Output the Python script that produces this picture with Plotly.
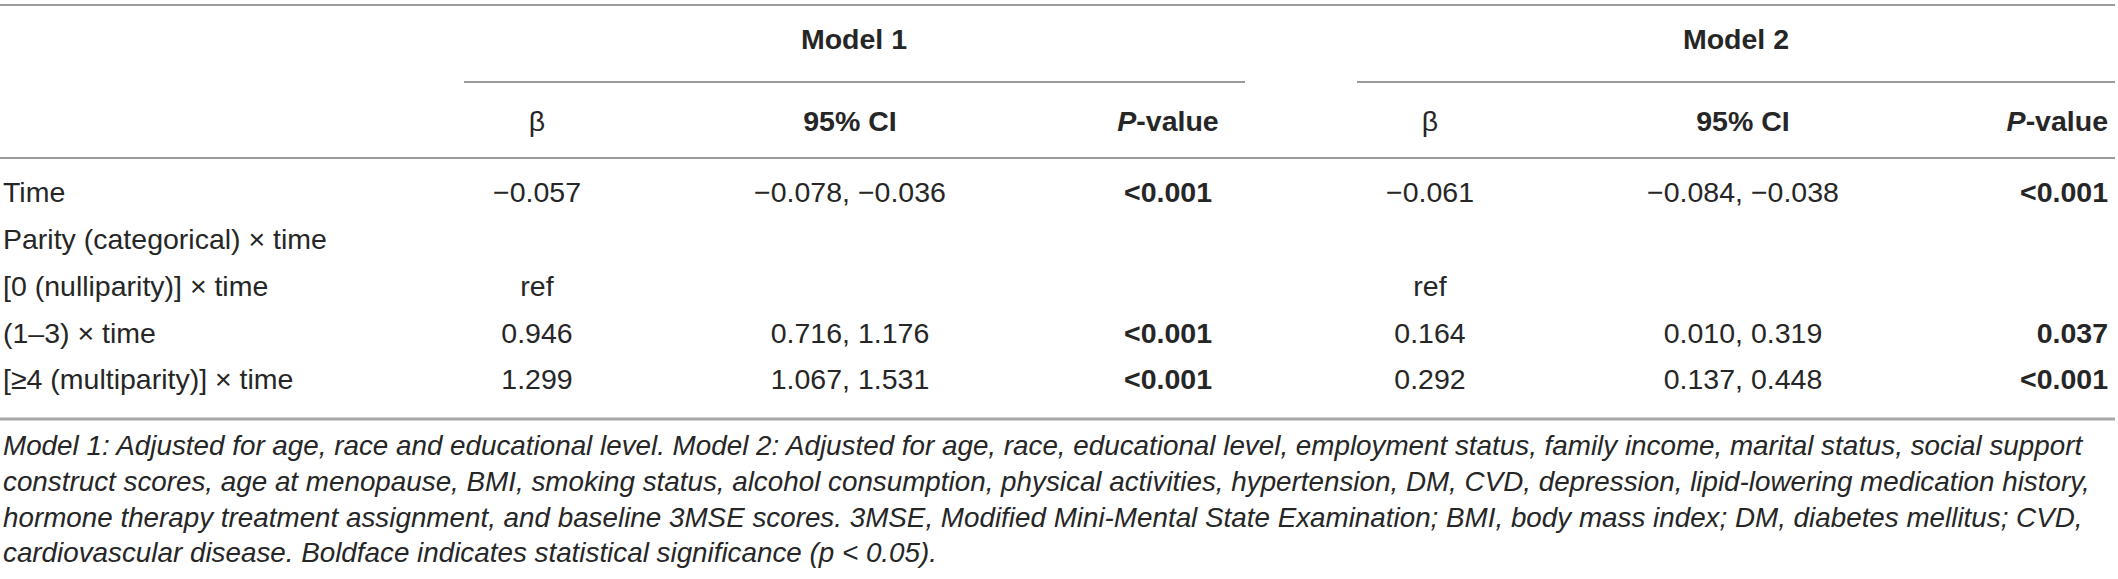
import plotly.graph_objects as go

# table content
row_labels = ["Time", "Parity (categorical) × time", "[0 (nulliparity)] × time",
              "(1–3) × time", "[≥4 (multiparity)] × time"]
m1_beta = ["−0.057", "", "ref", "0.946", "1.299"]
m1_ci = ["−0.078, −0.036", "", "", "0.716, 1.176", "1.067, 1.531"]
m1_p = ["<0.001", "", "", "<0.001", "<0.001"]
m2_beta = ["−0.061", "", "ref", "0.164", "0.292"]
m2_ci = ["−0.084, −0.038", "", "", "0.010, 0.319", "0.137, 0.448"]
m2_p = ["<0.001", "", "", "0.037", "<0.001"]

group_labels = ["Model 1", "Model 2"]
sub_headers = ["β", "95% CI", "<i>P</i>-value"]

footnote = [
    "Model 1: Adjusted for age, race and educational level. Model 2: Adjusted for age, race, educational level, employment status, family income, marital status, social support",
    "construct scores, age at menopause, BMI, smoking status, alcohol consumption, physical activities, hypertension, DM, CVD, depression, lipid-lowering medication history,",
    "hormone therapy treatment assignment, and baseline 3MSE scores. 3MSE, Modified Mini-Mental State Examination; BMI, body mass index; DM, diabetes mellitus; CVD,",
    "cardiovascular disease. Boldface indicates statistical significance (p < 0.05).",
]

# layout (pixel space)
W, H = 2118, 579
FONT = "Liberation Sans, Arial, Helvetica, sans-serif"
TXT = "#262626"
body_size = 28.5
foot_size = 27.8

label_x = 3
col_x = [537, 850, 1168, 1430, 1743, 2108]
group_x = [854, 1736]
group_span = [(464, 1245), (1357, 2115)]
group_y = 42
sub_y = 124
row_y0, row_h = 195, 46.8
foot_y0, foot_h = 448, 35.8


def esc(s):
    return s.replace("<", "&lt;")


def bold(s):
    return "<b>" + esc(s) + "</b>" if s else ""


fig = go.Figure()
rows_y = [row_y0 + i * row_h for i in range(len(row_labels))]

# row labels
fig.add_trace(go.Scatter(x=[label_x] * len(row_labels), y=rows_y, text=row_labels,
                         mode="text", textposition="middle right",
                         textfont=dict(family=FONT, size=body_size, color=TXT)))

# value columns
cols = [
    (m1_beta, False, "middle center"),
    (m1_ci, False, "middle center"),
    (m1_p, True, "middle center"),
    (m2_beta, False, "middle center"),
    (m2_ci, False, "middle center"),
    (m2_p, True, "middle left"),
]
for (vals, is_bold, pos), cx in zip(cols, col_x):
    txt = [bold(v) if is_bold else esc(v) for v in vals]
    fig.add_trace(go.Scatter(x=[cx] * len(vals), y=rows_y, text=txt,
                             mode="text", textposition=pos,
                             textfont=dict(family=FONT, size=body_size, color=TXT)))

# sub headers
sub_txt = []
for g in range(2):
    for j, s in enumerate(sub_headers):
        sub_txt.append(s if j == 0 else "<b>" + s + "</b>")
sub_pos = ["middle center"] * 5 + ["middle left"]
fig.add_trace(go.Scatter(x=col_x, y=[sub_y] * 6, text=sub_txt, mode="text",
                         textposition=sub_pos,
                         textfont=dict(family=FONT, size=body_size, color=TXT)))

# group headers
fig.add_trace(go.Scatter(x=group_x, y=[group_y] * 2,
                         text=["<b>" + g + "</b>" for g in group_labels],
                         mode="text", textposition="middle center",
                         textfont=dict(family=FONT, size=body_size, color=TXT)))

# footnote
fig.add_trace(go.Scatter(x=[label_x] * len(footnote),
                         y=[foot_y0 + i * foot_h for i in range(len(footnote))],
                         text=["<i>" + esc(f) + "</i>" for f in footnote],
                         mode="text", textposition="middle right",
                         textfont=dict(family=FONT, size=foot_size, color=TXT)))

# rules
line_c = "#7a7a7a"
fig.add_shape(type="line", x0=0, x1=2115, y0=5, y1=5, line=dict(color=line_c, width=1.5))
for x0, x1 in group_span:
    fig.add_shape(type="line", x0=x0, x1=x1, y0=82, y1=82, line=dict(color=line_c, width=1.5))
fig.add_shape(type="line", x0=0, x1=2115, y0=158, y1=158, line=dict(color=line_c, width=1.5))
fig.add_shape(type="line", x0=0, x1=2115, y0=419, y1=419, line=dict(color="#a8a8a8", width=3))

fig.update_layout(
    width=W, height=H,
    margin=dict(l=0, r=0, t=0, b=0),
    paper_bgcolor="white", plot_bgcolor="white",
    showlegend=False, hovermode=False,
    xaxis=dict(range=[0, W], visible=False, fixedrange=True),
    yaxis=dict(range=[H, 0], visible=False, fixedrange=True),
)

fig.write_html("out.html", config={"displayModeBar": False},
               post_script="document.body.style.margin='0';")
